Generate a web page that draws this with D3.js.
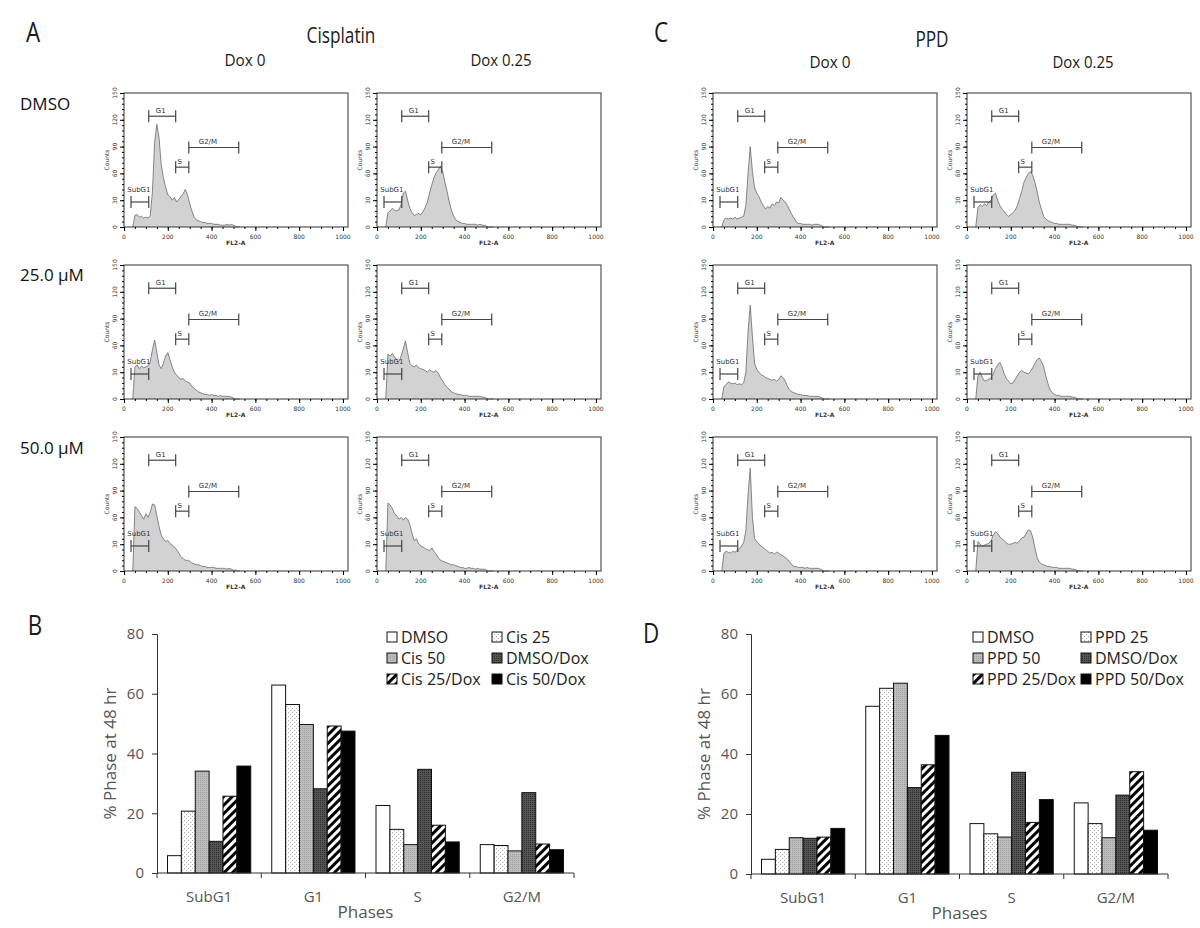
<!DOCTYPE html>
<html lang="en">
<head>
<meta charset="UTF-8">
<title>Cell cycle phases</title>
<script src="https://d3js.org/d3.v7.min.js"></script>
<style>
  body { margin: 0; background: #fff; }
  svg { display: block; }
  .htick { font-family: "DejaVu Sans", sans-serif; font-size: 6px; fill: #333; }
  .gate { font-family: "DejaVu Sans", sans-serif; font-size: 7px; fill: #333; }
  .head { font-family: "Open Sans", "Noto Sans", sans-serif; fill: #1a1a1a; }
  .bar-chart text { font-family: "Open Sans", "Noto Sans", sans-serif; }
</style>
</head>
<body>
<svg id="fig" width="1200" height="928"></svg>
<script>
// FL2-A channel positions of the histogram readings
const fl2 = [40,50,60,70,80,90,100,110,120,130,140,150,160,170,180,190,200,210,220,230,
             240,250,260,270,280,290,300,310,320,330,340,350,360,370,380,390,400,410,420,430,
             440,450,460,470,480,490,500,510,520,530];

// counts (panel A = cisplatin, panel C = PPD)
const cisDmsoDox0  = [0,13,14,11,12,10,11,10,13,40,95,115,100,70,55,45,36,34,30,33,28,31,34,37,42,36,26,18,11,8,7,6,5,5,4,4,4,3,3,3,2,2,2,3,2,3,2,1,0,0];
const cisDmsoDox25 = [0,16,18,21,19,18,19,25,38,40,30,21,16,13,14,15,14,17,22,28,38,47,55,61,64,68,62,50,40,28,19,12,8,6,5,4,4,3,3,3,3,3,2,3,2,2,1,0,0,0];
const cis25Dox0    = [0,36,38,34,37,35,36,37,42,55,66,52,38,34,40,48,52,44,36,30,27,24,22,23,20,19,18,14,12,10,8,7,6,5,5,4,5,4,4,3,4,3,3,3,3,2,1,0,0,0];
const cis25Dox25   = [0,50,48,51,47,44,42,48,56,65,52,40,37,36,38,35,34,33,32,30,33,31,30,32,29,24,20,16,13,11,8,7,6,5,5,4,4,4,3,3,3,3,3,3,2,2,1,0,0,0];
const cis50Dox0    = [0,72,70,66,62,58,64,60,66,75,74,62,50,40,36,33,34,31,29,27,24,20,16,14,12,12,11,9,8,7,7,6,5,5,4,4,4,4,3,3,3,3,3,2,3,2,1,1,0,0];
const cis50Dox25   = [0,76,74,70,64,62,58,60,57,60,58,52,42,34,36,31,28,27,25,24,23,26,22,19,15,12,11,10,9,8,7,7,6,5,4,4,3,3,4,3,3,2,3,2,2,2,1,0,0,0];
const ppdDmsoDox0  = [0,8,10,9,10,9,11,9,10,11,12,24,60,90,62,44,38,34,28,24,20,23,21,26,24,28,27,33,30,28,24,19,14,10,6,4,4,3,3,3,3,2,3,3,3,2,1,0,0,0];
const ppdDmsoDox25 = [0,22,25,23,26,24,28,30,36,38,30,24,20,17,14,12,14,16,19,24,32,40,50,55,60,62,58,50,40,28,20,12,9,7,6,5,4,4,3,3,3,3,3,3,2,2,1,0,0,0];
const ppd25Dox0    = [0,14,16,19,18,17,18,16,17,16,18,30,75,105,70,40,33,30,27,26,24,23,22,21,22,20,22,26,24,20,14,10,8,7,6,5,5,4,4,4,3,3,3,3,3,2,1,0,0,0];
const ppd25Dox25   = [0,26,30,24,20,21,22,24,28,34,38,41,36,28,23,20,17,18,22,26,30,32,30,29,28,31,35,40,44,46,42,36,26,17,10,7,5,4,4,3,3,3,3,3,2,2,1,0,0,0];
const ppd50Dox0    = [0,20,22,21,20,22,21,23,25,28,32,45,85,115,60,36,33,30,28,26,24,22,20,21,19,21,20,18,17,15,13,10,7,5,5,4,4,4,3,4,3,3,3,3,3,2,1,0,0,0];
const ppd50Dox25   = [0,33,30,28,29,30,31,34,40,44,42,38,36,34,31,30,30,31,32,31,34,37,38,42,46,45,38,26,15,10,8,7,6,5,5,4,4,4,3,3,3,3,3,3,2,2,1,0,0,0];

// gates on the histograms
const gateNames = ["SubG1", "G1", "S", "G2/M"];
const gateStart = [32, 113, 236, 296];
const gateEnd   = [113, 236, 296, 524];
const gateLevel = [28, 124, 67, 89];
const gateLabelX = [68, 168, 254, 383];

const histYTicks = [0, 30, 60, 90, 120, 150];
const histXTicks = [0, 200, 400, 600, 800, 1000];

// bar charts
const phases = ["SubG1", "G1", "S", "G2/M"];
const cisSeries = ["DMSO", "Cis 25", "Cis 50", "DMSO/Dox", "Cis 25/Dox", "Cis 50/Dox"];
const ppdSeries = ["DMSO", "PPD 25", "PPD 50", "DMSO/Dox", "PPD 25/Dox", "PPD 50/Dox"];
const cisDMSO    = [5.8, 62.9, 22.6, 9.5];
const cis25      = [20.7, 56.4, 14.6, 9.2];
const cis50      = [34.1, 49.7, 9.5, 7.4];
const cisDMSODox = [10.6, 28.2, 34.7, 26.9];
const cis25Dox   = [25.7, 49.2, 16.0, 9.7];
const cis50Dox   = [35.8, 47.5, 10.4, 7.8];
const ppdDMSO    = [4.9, 55.9, 16.8, 23.7];
const ppd25      = [8.2, 61.9, 13.4, 16.8];
const ppd50      = [12.1, 63.6, 12.3, 12.1];
const ppdDMSODox = [11.9, 28.8, 33.9, 26.3];
const ppd25Dox   = [12.3, 36.4, 17.2, 34.1];
const ppd50Dox   = [15.2, 46.2, 24.8, 14.6];
const barYTicks = [0, 20, 40, 60, 80];

const svg = d3.select("#fig");
const defs = svg.append("defs");

// fill patterns for the bars
const pDots = defs.append("pattern").attr("id", "p-dots")
  .attr("patternUnits", "userSpaceOnUse").attr("width", 4).attr("height", 4);
pDots.append("rect").attr("width", 4).attr("height", 4).attr("fill", "#fff");
pDots.append("rect").attr("x", 0).attr("y", 0).attr("width", 1).attr("height", 1).attr("fill", "#b0b0b0");
pDots.append("rect").attr("x", 2).attr("y", 2).attr("width", 1).attr("height", 1).attr("fill", "#b0b0b0");

const pLight = defs.append("pattern").attr("id", "p-light")
  .attr("patternUnits", "userSpaceOnUse").attr("width", 2).attr("height", 2);
pLight.append("rect").attr("width", 2).attr("height", 2).attr("fill", "#bdbdbd");
pLight.append("rect").attr("width", 1).attr("height", 1).attr("fill", "#a0a0a0");

const pDark = defs.append("pattern").attr("id", "p-dark")
  .attr("patternUnits", "userSpaceOnUse").attr("width", 2).attr("height", 2);
pDark.append("rect").attr("width", 2).attr("height", 2).attr("fill", "#555");
pDark.append("rect").attr("width", 1).attr("height", 1).attr("fill", "#2e2e2e");

const pDiag = defs.append("pattern").attr("id", "p-diag")
  .attr("patternUnits", "userSpaceOnUse").attr("width", 6).attr("height", 6)
  .attr("patternTransform", "rotate(45)");
pDiag.append("rect").attr("width", 6).attr("height", 6).attr("fill", "#fff");
pDiag.append("rect").attr("width", 3).attr("height", 6).attr("fill", "#000");

const seriesFill = ["#fff", "url(#p-dots)", "url(#p-light)", "url(#p-dark)", "url(#p-diag)", "#000"];

// ---------- headings (narrow face, as in the original) ----------
function head(x, y, size, txt, squeeze) {
  svg.append("text").attr("class", "head")
    .attr("transform", `translate(${x},${y}) scale(${squeeze},1)`)
    .attr("font-size", size)
    .attr("text-anchor", "middle")
    .text(txt);
}
head(33, 42, 28, "A", 0.8);
head(341, 43, 21, "Cisplatin", 0.82);
head(245, 66, 17, "Dox 0", 0.9);
head(501, 66, 17, "Dox 0.25", 0.88);
head(661, 42, 28, "C", 0.8);
head(932, 47, 21, "PPD", 0.82);
head(830, 68, 17, "Dox 0", 0.9);
head(1083, 68, 17, "Dox 0.25", 0.88);
head(35, 635, 28, "B", 0.8);
head(651, 643, 28, "D", 0.8);

const rowLabels = ["DMSO", "25.0 \u03BCM", "50.0 \u03BCM"];
const rowLabelY = [110, 281, 454];
rowLabels.forEach((t, i) => {
  svg.append("text")
    .attr("x", 20).attr("y", rowLabelY[i])
    .attr("font-family", "'Open Sans', sans-serif")
    .attr("font-size", 17).attr("fill", "#111")
    .text(t);
});

// ---------- flow histograms ----------
const histW = 224, histH = 134;
const histTops = [93, 265, 437];
const histLeftsA = [124, 377];
const histLeftsC = [713, 967];

function drawHist(left, top, counts) {
  const g = svg.append("g").attr("transform", `translate(${left},${top})`);
  const x = d3.scaleLinear().domain([0, 1023]).range([0, histW]);
  const y = d3.scaleLinear().domain([0, 150]).range([histH, 0]);

  const pts = fl2.map((v, i) => [v, counts[i]]);
  g.append("path")
    .attr("d", d3.area().x(d => x(d[0])).y0(y(0)).y1(d => y(d[1]))(pts))
    .attr("fill", "#d2d2d2");
  g.append("path")
    .attr("d", d3.line().x(d => x(d[0])).y(d => y(d[1]))(pts))
    .attr("fill", "none").attr("stroke", "#6a6a6a").attr("stroke-width", 0.8);

  g.append("rect").attr("width", histW).attr("height", histH)
    .attr("fill", "none").attr("stroke", "#333").attr("stroke-width", 1);

  // y axis
  g.append("g")
    .call(d3.axisLeft(y).tickValues(histYTicks).tickSize(4).tickFormat(""))
    .select(".domain").remove();
  g.append("g").call(d3.axisLeft(y).tickValues(d3.range(0, 151, 6)).tickSize(2).tickFormat(""))
    .select(".domain").remove();
  histYTicks.forEach(t => {
    g.append("text").attr("class", "htick")
      .attr("transform", `translate(-7,${y(t)}) rotate(-90)`)
      .attr("text-anchor", "middle")
      .text(t);
  });
  g.append("text").attr("class", "htick")
    .attr("transform", `translate(-15,${histH / 2}) rotate(-90)`)
    .attr("text-anchor", "middle").attr("font-size", 7)
    .text("Counts");

  // x axis
  g.append("g").attr("transform", `translate(0,${histH})`)
    .call(d3.axisBottom(x).tickValues(histXTicks).tickSize(4).tickFormat(""))
    .select(".domain").remove();
  g.append("g").attr("transform", `translate(0,${histH})`)
    .call(d3.axisBottom(x).tickValues(d3.range(0, 1001, 50)).tickSize(2).tickFormat(""))
    .select(".domain").remove();
  histXTicks.forEach(t => {
    g.append("text").attr("class", "htick")
      .attr("x", x(t)).attr("y", histH + 12)
      .attr("text-anchor", "middle").text(t);
  });
  g.append("text").attr("class", "htick")
    .attr("x", x(510)).attr("y", histH + 18)
    .attr("text-anchor", "middle").attr("font-weight", "bold")
    .text("FL2-A");

  // gates
  gateNames.forEach((name, i) => {
    const gy = y(gateLevel[i]);
    const x0 = x(gateStart[i]), x1 = x(gateEnd[i]);
    const gg = g.append("g").attr("stroke", "#444").attr("stroke-width", 1.2);
    gg.append("line").attr("x1", x0).attr("x2", x1).attr("y1", gy).attr("y2", gy);
    gg.append("line").attr("x1", x0).attr("x2", x0).attr("y1", gy - 6).attr("y2", gy + 6);
    gg.append("line").attr("x1", x1).attr("x2", x1).attr("y1", gy - 6).attr("y2", gy + 6);
    g.append("text").attr("class", "gate")
      .attr("x", x(gateLabelX[i]))
      .attr("y", gy - (i === 0 ? 10 : 3))
      .attr("text-anchor", "middle")
      .text(name);
  });
}

const cisHists = [[cisDmsoDox0, cisDmsoDox25], [cis25Dox0, cis25Dox25], [cis50Dox0, cis50Dox25]];
const ppdHists = [[ppdDmsoDox0, ppdDmsoDox25], [ppd25Dox0, ppd25Dox25], [ppd50Dox0, ppd50Dox25]];
histTops.forEach((top, r) => {
  histLeftsA.forEach((left, c) => drawHist(left, top, cisHists[r][c]));
  histLeftsC.forEach((left, c) => drawHist(left, top, ppdHists[r][c]));
});

// ---------- bar charts ----------
function drawBars(x0, x1, yBottom, yTop, series, values, legX, labelX) {
  const g = svg.append("g").attr("class", "bar-chart");
  const x = d3.scaleBand().domain(phases).range([x0, x1]).padding(0);
  const inner = d3.scaleBand().domain(series).range([10.5, x.bandwidth() - 10.5]).padding(0);
  const y = d3.scaleLinear().domain([0, 80]).range([yBottom, yTop]);

  series.forEach((s, si) => {
    g.selectAll(null).data(values[si]).enter().append("rect")
      .attr("x", (d, i) => x(phases[i]) + inner(s))
      .attr("y", d => y(d))
      .attr("width", inner.bandwidth())
      .attr("height", d => yBottom - y(d))
      .attr("fill", seriesFill[si])
      .attr("stroke", "#111").attr("stroke-width", 1);
  });

  const ya = g.append("g").attr("transform", `translate(${x0},0)`)
    .call(d3.axisLeft(y).tickValues(barYTicks).tickSize(5).tickPadding(8));
  ya.select(".domain").attr("stroke", "#333");
  ya.selectAll(".tick line").attr("stroke", "#333");
  ya.selectAll("text").attr("font-size", 15).attr("fill", "#555");

  // x axis with ticks at category boundaries
  g.append("line").attr("x1", x0).attr("x2", x1).attr("y1", yBottom).attr("y2", yBottom)
    .attr("stroke", "#333");
  d3.range(phases.length + 1).forEach(i => {
    const tx = x0 + i * x.bandwidth();
    g.append("line").attr("x1", tx).attr("x2", tx).attr("y1", yBottom).attr("y2", yBottom + 5)
      .attr("stroke", "#333");
  });
  phases.forEach(p => {
    g.append("text").attr("x", x(p) + x.bandwidth() / 2).attr("y", yBottom + 29)
      .attr("text-anchor", "middle").attr("font-size", 15).attr("fill", "#555")
      .text(p);
  });
  g.append("text").attr("x", (x0 + x1) / 2).attr("y", yBottom + 45)
    .attr("text-anchor", "middle").attr("font-size", 17).attr("fill", "#555")
    .text("Phases");
  g.append("text")
    .attr("transform", `translate(${labelX},${(yBottom + yTop) / 2}) rotate(-90)`)
    .attr("text-anchor", "middle").attr("font-size", 17).attr("fill", "#555")
    .text("% Phase at 48 hr");

  // legend
  series.forEach((s, si) => {
    const col = si % 2, row = Math.floor(si / 2);
    const lx = legX[col], ly = 637 + row * 21;
    g.append("rect").attr("x", lx).attr("y", ly - 5).attr("width", 10).attr("height", 10)
      .attr("fill", seriesFill[si]).attr("stroke", "#111").attr("stroke-width", 1);
    g.append("text").attr("x", lx + 14).attr("y", ly + 6)
      .attr("font-size", 16).attr("fill", "#222")
      .text(s);
  });
}

drawBars(157, 574, 873, 634, cisSeries,
  [cisDMSO, cis25, cis50, cisDMSODox, cis25Dox, cis50Dox], [387, 492], 116);
drawBars(751, 1168, 874, 634, ppdSeries,
  [ppdDMSO, ppd25, ppd50, ppdDMSODox, ppd25Dox, ppd50Dox], [973, 1081], 710);
</script>
</body>
</html>
